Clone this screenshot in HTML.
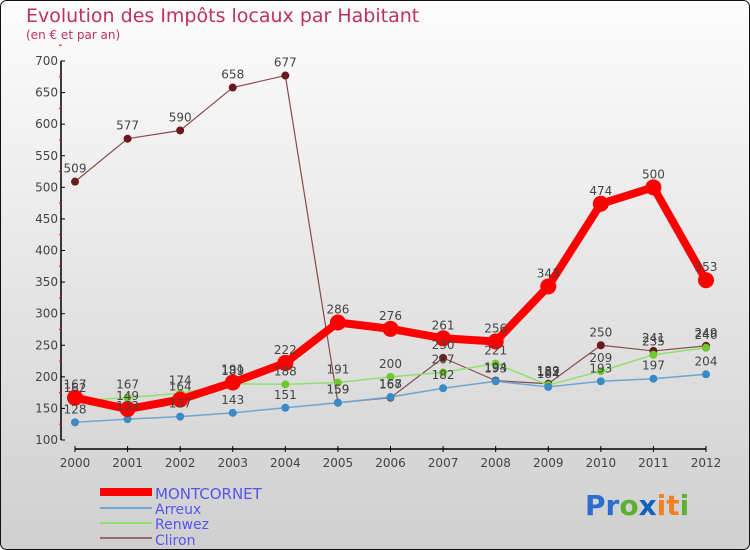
<!DOCTYPE html>
<html><head><meta charset="utf-8"><style>
body{margin:0;}
#c{width:750px;height:550px;position:relative;overflow:hidden;font-family:"DejaVu Sans","Liberation Sans",sans-serif;}
</style></head><body>
<div id="c">
<svg id="s" width="750" height="550" xmlns="http://www.w3.org/2000/svg">
<defs>
<linearGradient id="bg" x1="0" y1="0" x2="0" y2="1"><stop offset="0" stop-color="#fdfdfd"/><stop offset="1" stop-color="#cfcfcf"/></linearGradient>
</defs>
<rect x="0.5" y="0.5" width="749" height="549" rx="6" fill="url(#bg)" stroke="#111"/>
<text x="26" y="22" font-size="19" fill="#c0305a">Evolution des Impôts locaux par Habitant</text>
<text x="26" y="39" font-size="12" fill="#c0305a">(en € et par an)</text>
<g id="axes"></g>
<g id="series"></g>
<g id="labels"></g>
<g>
<rect x="100" y="488" width="52" height="8" fill="#f00"/>
<text x="155" y="499" font-size="15" fill="#5555ee">MONTCORNET</text>
<line x1="100" y1="508" x2="152" y2="508" stroke="#6ea6d0" stroke-width="2"/>
<text x="155" y="514" font-size="14" fill="#5555ee">Arreux</text>
<line x1="100" y1="523" x2="152" y2="523" stroke="#90e070" stroke-width="2"/>
<text x="155" y="529" font-size="14" fill="#5555ee">Renwez</text>
<line x1="100" y1="538" x2="152" y2="538" stroke="#9a6a6a" stroke-width="2"/>
<text x="155" y="545" font-size="14" fill="#5555ee">Cliron</text>
</g>
<g font-size="28" font-family="'DejaVu Sans',sans-serif" font-weight="bold">
<text x="585" y="515"><tspan fill="#2a6fd0">Pr</tspan><tspan fill="#5bb030">o</tspan><tspan fill="#1060c0">x</tspan><tspan fill="#f08020">it</tspan><tspan fill="#5bb030">i</tspan></text>
</g>
</svg>
</div>
<script>
const years=["2000","2001","2002","2003","2004","2005","2006","2007","2008","2009","2010","2011","2012"];
const yTicks=[100,150,200,250,300,350,400,450,500,550,600,650,700];
const montcornet=[167,149,164,191,222,286,276,261,256,343,474,500,353];
const arreux=[128,133,137,143,151,159,168,182,193,184,193,197,204];
const renwez=[162,167,174,189,188,191,200,207,221,187,209,235,246];
const cliron=[509,577,590,658,677,159,167,230,194,189,250,241,249];
const NS="http://www.w3.org/2000/svg";
const x=i=>75+i*(706-75)/12;
const y=v=>440-(v-100)*(440-61)/600;
function mk(tag,attrs,parent){const e=document.createElementNS(NS,tag);for(const k in attrs)e.setAttribute(k,attrs[k]);parent.appendChild(e);return e;}
const ax=document.getElementById('axes');
let yl=mk('line',{x1:61,y1:y(700),x2:61,y2:y(100),stroke:'#000','stroke-width':1.5},ax);


yTicks.forEach(v=>{
 mk('line',{x1:61,y1:y(v),x2:65,y2:y(v),stroke:'#000'},ax);
 mk('line',{x1:59,y1:y(v+25),x2:62,y2:y(v+25),stroke:'#f00'},ax);
 const t=mk('text',{x:58,y:y(v)+4,'font-size':12,'text-anchor':'end',fill:'#444'},ax);t.textContent=v;
 
 
});
let xl=mk('line',{x1:75,y1:449,x2:706,y2:449,stroke:'#000','stroke-width':1.5},ax);


years.forEach((yr,i)=>{
 mk('line',{x1:x(i),y1:446,x2:x(i),y2:452,stroke:'#000'},ax);
 const t=mk('text',{x:x(i),y:467,'font-size':12,'text-anchor':'middle',fill:'#444'},ax);t.textContent=yr;
 
 
});
const sg=document.getElementById('series'),lg=document.getElementById('labels');
function draw(name,data,color,dot,w,r){
 const g=mk('g',{},sg);
 
 
 mk('polyline',{points:data.map((v,i)=>x(i)+','+y(v)).join(' '),fill:'none',stroke:color,'stroke-width':w,'stroke-linejoin':'round'},g);
 data.forEach((v,i)=>{
  const c=mk('circle',{cx:x(i),cy:y(v),r:r,fill:dot},g);
  
  
  const t=mk('text',{x:x(i),y:y(v)-9,'font-size':12,'text-anchor':'middle',fill:'#444'},lg);t.textContent=v;
  
  
 });
}
draw('cliron',cliron,'#8a4a4a','#6a1a1a',1.2,4);
draw('renwez',renwez,'#90e070','#70c830',1.5,4);
draw('arreux',arreux,'#6ea6d0','#3a8ac8',1.5,4);
draw('montcornet',montcornet,'#f00','#f00',8,8);
</script>
</body></html>
